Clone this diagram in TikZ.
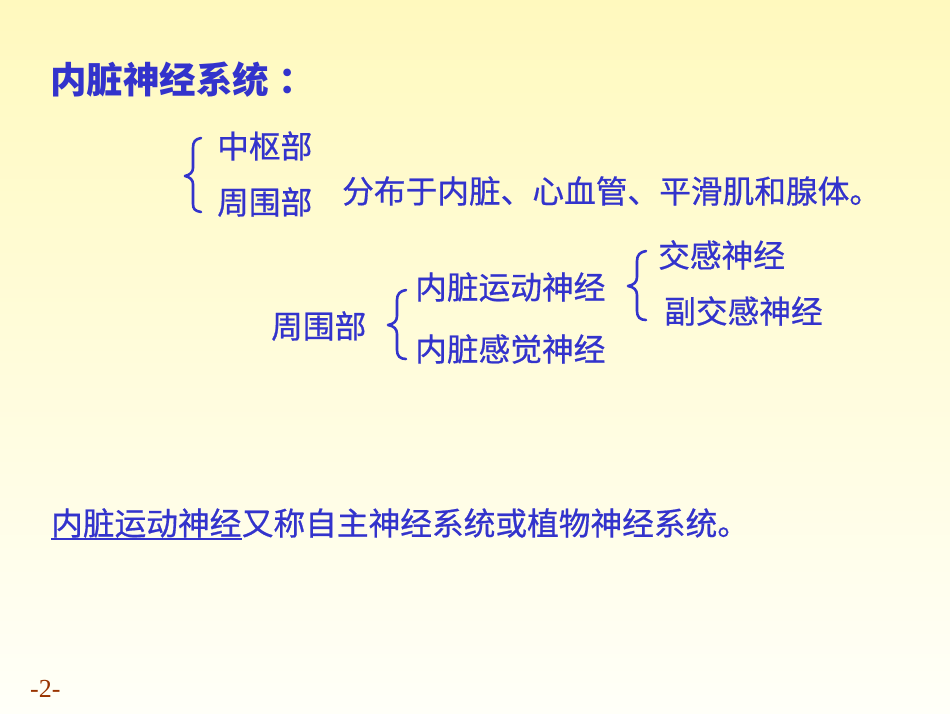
\documentclass[tikz,border=0pt]{standalone}
\usepackage{fontspec}
\newfontfamily\cjk[FakeBold=0.6]{Noto Sans CJK SC}
\newfontfamily\cjkb{Noto Sans CJK SC}
\newfontfamily\serifnum{Liberation Serif}
\definecolor{txtblue}{RGB}{51,51,204}
\definecolor{numred}{RGB}{153,51,0}
\definecolor{bgtop}{RGB}{255,249,190}
\definecolor{bgbot}{RGB}{255,255,248}
\begin{document}
\begin{tikzpicture}[x=1pt,y=-1pt,
  txt/.style={anchor=west,inner sep=0pt,text=txtblue,font=\cjk\fontsize{31.7}{36}\selectfont},
  ttl/.style={anchor=west,inner sep=0pt,text=txtblue,font=\cjkb\bfseries\fontsize{36.5}{42}\selectfont},
  brc/.style={draw=txtblue,line width=2.6pt,line cap=round,line join=round}]
\useasboundingbox (0,0) rectangle (950,713);
\shade[top color=bgtop,bottom color=bgbot] (0,0) rectangle (950,713);
% title
\node[ttl] (title) at (50,80) {内脏神经系统\hspace{9pt}：};
% first group
\node[txt] (zs) at (217,146) {中枢部};
\node[txt] (zw) at (217,202) {周围部};
\node[txt] (fb) at (342,191) {分布于内脏、心血管、平滑肌和腺体。};
\draw[brc] (201,138) .. controls (195,139) and (193,142) .. (193,148) -- (193,168)
  .. controls (193,172) and (190,175) .. (185,176)
  .. controls (190,177) and (193,180) .. (193,184) -- (193,204)
  .. controls (193,209) and (195,211) .. (201,212);
% second group
\node[txt] (zw2) at (271,326) {周围部};
\node[txt] (yd) at (415,287) {内脏运动神经};
\node[txt] (gj) at (415,349) {内脏感觉神经};
\draw[brc] (406,290) .. controls (400,291) and (397,294) .. (397,300) -- (397,316)
  .. controls (397,321) and (394,324) .. (388,325)
  .. controls (394,326) and (397,329) .. (397,334) -- (397,350)
  .. controls (397,356) and (400,359) .. (406,359);
\node[txt] (jg) at (658,255) {交感神经};
\node[txt] (fjg) at (664,311) {副交感神经};
\draw[brc] (646,251) .. controls (640,252) and (637,255) .. (637,261) -- (637,277)
  .. controls (637,282) and (634,285) .. (628,286)
  .. controls (634,287) and (637,290) .. (637,295) -- (637,311)
  .. controls (637,317) and (640,320) .. (646,320);
% bottom sentence
\node[txt] (b1) at (51,523) {内脏运动神经};
\node[txt] (b2) at (b1.east) {又称自主神经系统或植物神经系统。};
\draw[txtblue,line width=1.6pt] ([yshift=-1pt]b1.south west) -- ([yshift=-1pt]b1.south east);
% page number
\node[anchor=west,inner sep=0pt,text=numred,font=\serifnum\fontsize{26}{30}\selectfont] (pg) at (30,689) {-2-};
\end{tikzpicture}
\end{document}
